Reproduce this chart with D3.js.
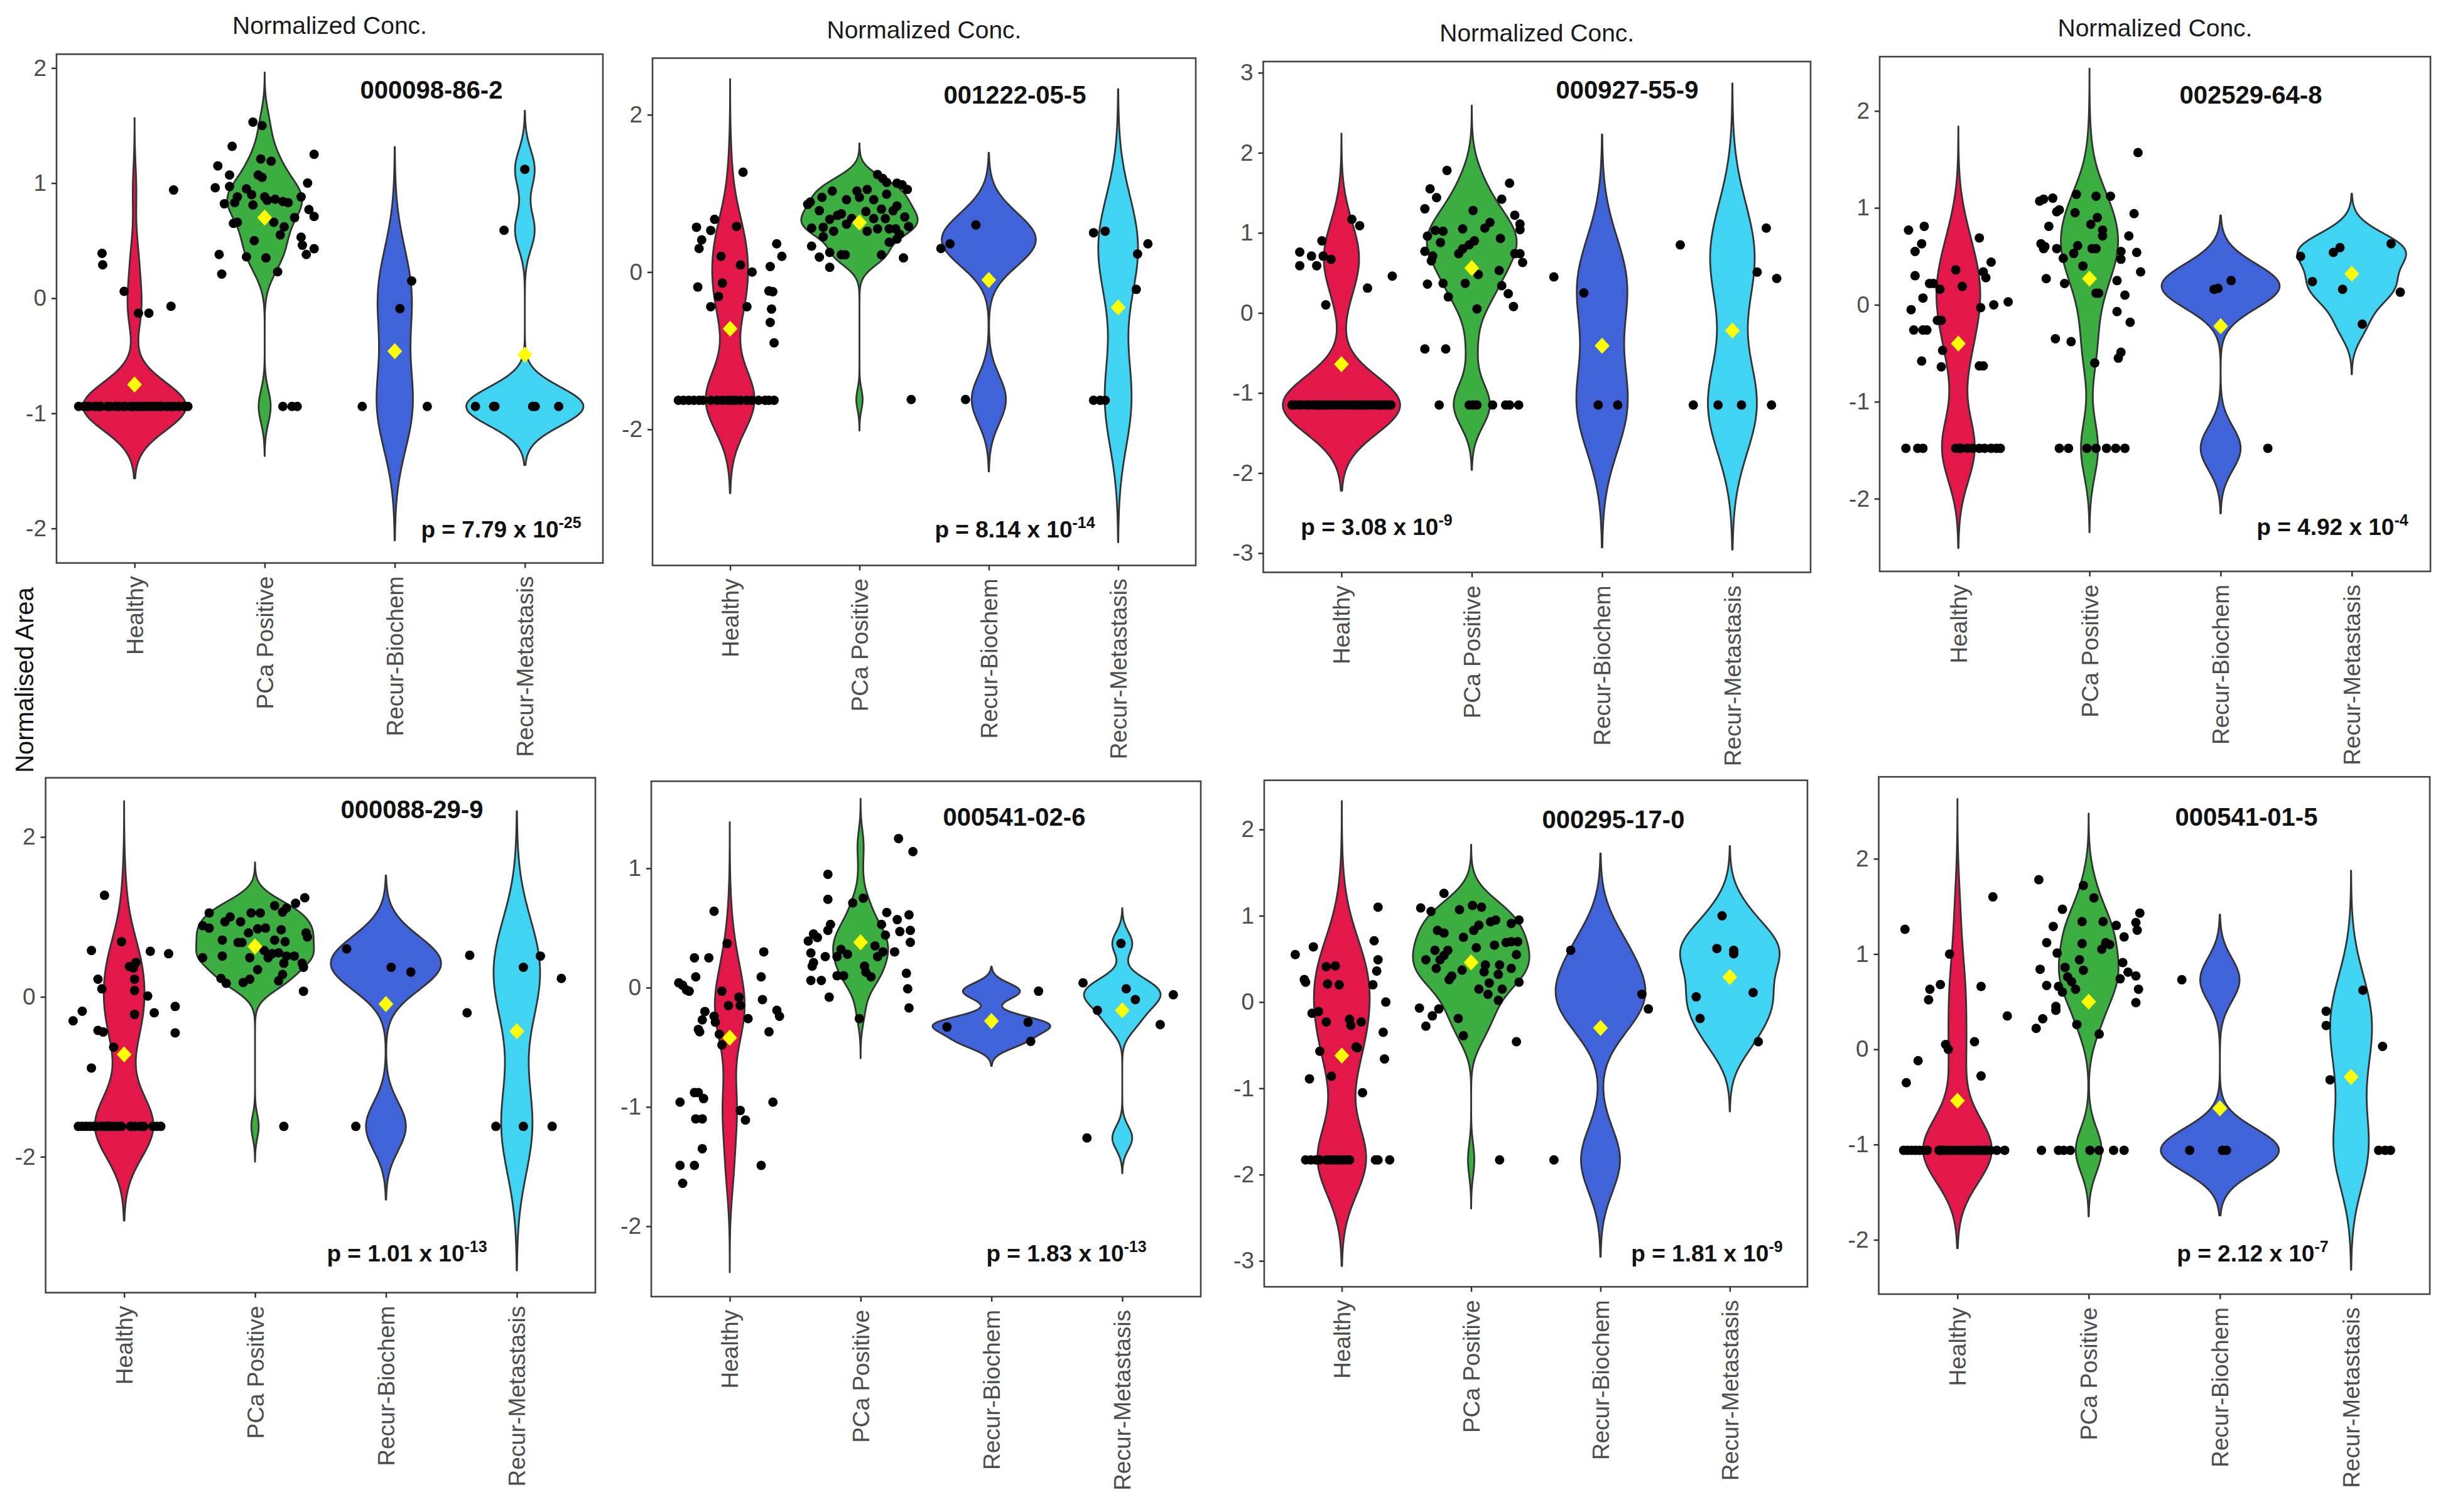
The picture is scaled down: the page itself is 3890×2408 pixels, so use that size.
<!DOCTYPE html>
<html><head><meta charset="utf-8">
<script src="https://cdn.jsdelivr.net/npm/d3@7"></script>
<style>html,body{margin:0;padding:0;background:#fff;}svg{display:block;}</style>
</head><body>
<script>
// ---------------- DATA ----------------
const categories = ["Healthy", "PCa Positive", "Recur-Biochem", "Recur-Metastasis"];
const compoundIds = ["000098-86-2", "001222-05-5", "000927-55-9", "002529-64-8",
                     "000088-29-9", "000541-02-6", "000295-17-0", "000541-01-5"];
const pMantissa = ["7.79", "8.14", "3.08", "4.92", "1.01", "1.83", "1.81", "2.12"];
const pExponent = ["-25", "-14", "-9", "-4", "-13", "-13", "-9", "-7"];
const yAxisTitle = "Normalised Area";
const panelTitle = "Normalized Conc.";

const ticks1 = [-2, -1, 0, 1, 2];
const ticks2 = [-2, 0, 2];
const ticks3 = [-3, -2, -1, 0, 1, 2, 3];
const ticks4 = [-2, -1, 0, 1, 2];
const ticks5 = [-2, 0, 2];
const ticks6 = [-2, -1, 0, 1];
const ticks7 = [-3, -2, -1, 0, 1, 2];
const ticks8 = [-2, -1, 0, 1, 2];

// group means (yellow diamonds), order = categories
const means1 = [-0.75, 0.70, -0.46, -0.49];
const means2 = [-0.72, 0.63, -0.10, -0.45];
const means3 = [-0.64, 0.56, -0.41, -0.22];
const means4 = [-0.40, 0.27, -0.22, 0.32];
const means5 = [-0.72, 0.63, -0.09, -0.43];
const means6 = [-0.42, 0.38, -0.28, -0.19];
const means7 = [-0.62, 0.46, -0.30, 0.29];
const means8 = [-0.54, 0.50, -0.62, -0.29];

// observations: [jitter offset (in category steps), value]
const at = (v, offsets) => offsets.map(o => [o, v]);

// Panel 1: 000098-86-2
const healthy1 = [[-0.25,0.39],[-0.245,0.29],[-0.08,0.06],[0.03,-0.13],[0.11,-0.13],[0.28,-0.07],[0.30,0.94]]
  .concat(at(-0.94, [-0.43,-0.39,-0.36,-0.35,-0.31,-0.28,-0.26,-0.21,-0.19,-0.15,-0.12,-0.08,-0.07,-0.03,-0.01,0.02,0.04,0.07,0.09,0.12,0.15,0.17,0.20,0.21,0.25,0.28,0.30,0.34,0.38,0.41]));
const pca1 = [[-0.09,1.53],[-0.02,1.50],[-0.25,1.32],[0.38,1.25],[-0.36,1.15],[-0.03,1.21],[0.05,1.19],[-0.27,1.07],[-0.05,1.07],[-0.02,1.05],[-0.38,0.96],[-0.27,0.97],[-0.14,0.95],[0.33,1.00],[-0.21,0.88],[-0.10,0.90],[0,0.88],[0.08,0.86],[0.18,0.83],[0.28,0.88],[-0.31,0.82],[-0.23,0.83],[-0.09,0.81],[0.02,0.85],[0.14,0.84],[0.34,0.77],[0.38,0.71],[0.23,0.70],[0.07,0.66],[-0.21,0.66],[-0.24,0.65],[0.15,0.62],[0.12,0.55],[0.28,0.53],[-0.08,0.50],[0.29,0.46],[0.38,0.43],[0.32,0.38],[-0.14,0.36],[0.01,0.35],[-0.35,0.38],[-0.33,0.21],[0.10,0.23]]
  .concat(at(-0.94, [0.14,0.21,0.25]));
const biochem1 = [[-0.25,-0.94],[0.25,-0.94],[0.04,-0.09],[0.13,0.15]];
const meta1 = [[0,1.12],[-0.16,0.59]].concat(at(-0.94, [-0.38,-0.24,0.06,0.08,0.26,-0.23]));

// Panel 2: 001222-05-5
const healthy2 = [[0.10,1.27],[-0.26,0.57],[-0.22,0.41],[-0.24,0.30],[-0.12,0.67],[-0.15,0.53],[0.05,0.58],[-0.07,0.20],[0.08,0.09],[0.17,0.0],[-0.25,-0.19],[-0.06,-0.14],[-0.09,-0.31],[-0.15,-0.44],[0.13,-0.44],[0.31,0.07],[0.36,0.36],[0.40,0.20],[0.30,-0.24],[0.33,-0.25],[0.32,-0.47],[0.31,-0.64],[0.34,-0.90]]
  .concat(at(-1.63, [-0.40,-0.36,-0.32,-0.28,-0.24,-0.21,-0.15,-0.10,-0.06,-0.02,0.01,0.04,0.08,0.13,0.17,0.22,0.27,0.30,0.34]));
const pca2 = [[0.14,1.24],[0.18,1.19],[0.21,1.14],[0.29,1.13],[0.33,1.11],[0.37,1.05],[-0.21,1.03],[-0.29,0.95],[-0.38,0.89],[-0.40,0.86],[-0.02,1.03],[0.06,1.05],[-0.10,0.92],[0.11,0.92],[0.21,0.99],[0.29,0.84],[0.17,0.80],[0.26,0.78],[-0.31,0.78],[-0.14,0.74],[-0.17,0.72],[-0.23,0.67],[-0.28,0.57],[-0.37,0.56],[-0.10,0.61],[0.06,0.52],[0.14,0.55],[0.23,0.55],[0.28,0.55],[0.31,0.48],[0.38,0.58],[0.23,0.38],[0.29,0.42],[-0.28,0.45],[-0.20,0.52],[-0.14,0.22],[-0.11,0.22],[-0.23,0.25],[-0.37,0.33],[-0.31,0.19],[-0.23,0.06],[0.17,0.22],[0.34,0.18],[0.0,0.95],[0.05,0.77],[-0.06,0.68],[0.11,0.68],[0.20,0.68],[0.35,0.70]]
  .concat(at(-1.62, [0.40]));
const biochem2 = [[-0.37,0.30],[-0.30,0.36],[-0.10,0.60],[-0.18,-1.62]];
const meta2 = [[-0.19,0.50],[-0.10,0.52],[0.23,0.36],[0.15,0.23],[0.14,-0.22]].concat(at(-1.63, [-0.19,-0.10,-0.14]));

// Panel 3: 000927-55-9
const healthy3 = [[-0.32,0.76],[-0.32,0.59],[-0.23,0.71],[-0.19,0.59],[-0.15,0.90],[-0.14,0.71],[-0.08,0.67],[-0.12,0.10],[0.08,1.17],[0.14,1.09],[0.20,0.31],[0.39,0.46]]
  .concat(at(-1.15, [-0.38,-0.36,-0.33,-0.31,-0.27,-0.25,-0.22,-0.19,-0.17,-0.14,-0.12,-0.09,-0.06,-0.04,-0.01,0.02,0.04,0.07,0.09,0.12,0.14,0.17,0.19,0.22,0.24,0.27,0.29,0.31,0.34,0.36,0.38]));
const pca3 = [[-0.19,1.78],[-0.32,1.55],[-0.27,1.44],[0.29,1.62],[0.23,1.42],[-0.36,1.30],[0.01,1.28],[0.33,1.22],[0.37,1.11],[0.14,1.13],[0.10,1.06],[-0.28,1.03],[-0.22,1.02],[-0.07,1.05],[0.37,1.04],[-0.34,0.96],[-0.24,0.88],[0.02,0.90],[-0.02,0.85],[-0.07,0.80],[-0.10,0.74],[0.22,0.93],[-0.36,0.77],[-0.30,0.71],[-0.31,0.65],[0.39,0.63],[0.33,0.74],[0.37,0.74],[0.21,0.53],[0.05,0.48],[-0.05,0.37],[-0.34,0.36],[-0.22,0.37],[-0.18,0.20],[0.23,0.34],[0.28,0.24],[0.32,0.08],[0.04,0.05],[-0.36,-0.45],[-0.20,-0.45]]
  .concat(at(-1.15, [-0.25,-0.02,0.01,0.04,0.16,0.26,0.29,0.36]));
const biochem3 = [[-0.37,0.45],[-0.14,0.25]].concat(at(-1.15, [-0.03,0.12]));
const meta3 = [[-0.40,0.85],[0.26,1.06],[0.19,0.51],[0.34,0.43]].concat(at(-1.15, [-0.30,-0.11,0.07,0.30]));

// Panel 4: 002529-64-8
const healthy4 = [[-0.38,0.77],[-0.26,0.81],[-0.28,0.63],[-0.33,0.55],[-0.33,0.30],[-0.22,0.22],[-0.19,0.22],[-0.27,0.07],[-0.36,-0.05],[-0.34,-0.26],[-0.27,-0.26],[-0.24,-0.26],[-0.14,0.16],[-0.16,-0.16],[-0.13,-0.16],[-0.12,-0.47],[-0.13,-0.64],[-0.28,-0.58],[-0.02,0.36],[0.03,0.19],[0.16,0.69],[0.25,0.44],[0.19,0.34],[0.21,0.28],[0.17,-0.03],[0.27,0.0],[0.38,0.03],[0.16,-0.63],[0.19,-0.63]]
  .concat(at(-1.48, [-0.40,-0.31,-0.27,-0.02,0.01,0.02,0.07,0.11,0.16,0.20,0.25,0.29,0.32]));
const pca4 = [[0.37,1.57],[-0.38,1.07],[-0.35,1.09],[-0.28,1.10],[-0.10,1.14],[0.05,1.12],[0.16,1.12],[-0.23,0.98],[-0.25,0.96],[0.34,0.94],[-0.11,0.95],[-0.31,0.81],[0.01,0.83],[0.06,0.90],[0.10,0.77],[0.10,0.71],[0.30,0.71],[-0.37,0.63],[-0.34,0.60],[-0.09,0.61],[-0.35,0.58],[-0.25,0.58],[0.02,0.58],[0.05,0.58],[0.24,0.55],[0.36,0.54],[-0.12,0.53],[-0.20,0.48],[0.24,0.47],[-0.05,0.40],[0.39,0.34],[-0.33,0.27],[-0.19,0.22],[0.21,0.25],[0.05,0.12],[0.07,0.12],[0.27,0.10],[0.21,-0.07],[0.31,-0.18],[-0.26,-0.35],[-0.14,-0.38],[0.24,-0.49],[0.22,-0.55],[0.04,-0.60]]
  .concat(at(-1.48, [-0.23,-0.16,-0.02,0.05,0.13,0.20,0.27]));
const biochem4 = [[-0.05,0.16],[-0.02,0.17],[0.08,0.25],[0.36,-1.48]];
const meta4 = [[-0.39,0.50],[-0.30,0.24],[-0.14,0.54],[-0.09,0.59],[-0.07,0.16],[0.30,0.63],[0.37,0.13],[0.08,-0.20]];

// Panel 5: 000088-29-9
const healthy5 = [[-0.15,1.27],[-0.02,0.69],[-0.25,0.58],[0.20,0.57],[0.34,0.54],[0.04,0.38],[0.07,0.36],[0.09,0.43],[-0.20,0.22],[-0.17,0.10],[0.08,0.08],[0.08,0.22],[0.18,0.01],[0.39,-0.12],[-0.39,-0.30],[-0.32,-0.18],[0.23,-0.20],[0.08,-0.22],[-0.20,-0.42],[-0.16,-0.44],[0.39,-0.45],[-0.08,-0.63],[-0.25,-0.89]]
  .concat(at(-1.62, [-0.35,-0.32,-0.29,-0.26,-0.23,-0.20,-0.17,-0.14,-0.13,-0.11,-0.08,-0.05,-0.02,0.05,0.08,0.12,0.15,0.22,0.25,0.28]));
const pca5 = [[0.38,1.24],[0.31,1.17],[0.15,1.14],[0.24,1.11],[0.21,1.06],[-0.35,1.05],[-0.03,1.05],[0.04,1.05],[-0.19,1.0],[-0.23,0.94],[-0.11,0.94],[-0.40,0.89],[-0.35,0.86],[0.08,0.86],[0.20,0.84],[0.02,0.85],[-0.05,0.80],[0.39,0.80],[0.40,0.75],[-0.25,0.71],[-0.13,0.68],[-0.10,0.68],[0.15,0.71],[0.23,0.69],[0.07,0.58],[0.13,0.54],[0.10,0.49],[0.18,0.55],[0.24,0.51],[0.30,0.51],[-0.40,0.49],[-0.25,0.51],[-0.04,0.49],[0.36,0.42],[0.37,0.37],[0.22,0.42],[0.02,0.34],[0.21,0.28],[0.18,0.20],[-0.26,0.23],[-0.22,0.17],[-0.09,0.18],[-0.04,0.22],[0.37,0.07]]
  .concat(at(-1.62, [0.22]));
const biochem5 = [[-0.30,0.60],[0.04,0.37],[0.19,0.31],[-0.23,-1.62]];
const meta5 = [[-0.36,0.52],[0.05,0.37],[0.18,0.51],[0.34,0.23],[-0.38,-0.20]].concat(at(-1.62, [-0.16,0.05,0.27]));

// Panel 6: 000541-02-6
const healthy6 = [[-0.12,0.64],[-0.02,0.37],[-0.16,0.25],[-0.27,0.25],[-0.26,0.09],[-0.39,0.04],[-0.36,0.02],[-0.33,-0.02],[-0.31,-0.03],[-0.06,-0.03],[-0.19,-0.20],[-0.21,-0.27],[-0.12,-0.24],[-0.11,-0.29],[-0.24,-0.35],[-0.23,-0.37],[-0.08,-0.39],[-0.06,-0.48],[-0.01,-0.15],[0.07,-0.08],[0.08,-0.15],[0.14,-0.26],[0.08,-1.03],[0.12,-1.11],[0.26,0.30],[0.24,0.09],[0.25,-0.10],[0.30,-0.37],[0.36,-0.19],[0.38,-0.24],[0.33,-0.96],[0.24,-1.49],[-0.38,-0.96],[-0.27,-0.88],[-0.24,-0.88],[-0.20,-0.93],[-0.26,-1.10],[-0.21,-1.10],[-0.21,-1.35],[-0.38,-1.49],[-0.27,-1.49],[-0.36,-1.64]];
const pca6 = [[0.29,1.25],[0.40,1.14],[-0.25,0.95],[-0.25,0.74],[-0.06,0.71],[0.02,0.75],[0.37,0.61],[0.20,0.63],[0.28,0.57],[0.16,0.53],[-0.23,0.53],[-0.25,0.48],[0.38,0.48],[0.30,0.47],[-0.36,0.45],[-0.33,0.42],[-0.40,0.39],[0.19,0.44],[0.38,0.38],[0.01,0.38],[0.11,0.35],[-0.15,0.32],[-0.27,0.26],[-0.18,0.26],[-0.38,0.29],[-0.10,0.28],[0.17,0.30],[0.26,0.30],[0.13,0.26],[-0.37,0.18],[-0.36,0.21],[0.03,0.18],[0.04,0.13],[-0.18,0.10],[-0.13,0.10],[0.08,0.09],[-0.38,0.06],[-0.30,0.06],[0.35,0.12],[0.36,-0.01],[0.37,-0.17],[-0.24,-0.08],[-0.01,-0.26]];
const biochem6 = [[-0.34,-0.33],[0.36,-0.03],[0.28,-0.29],[0.30,-0.45]];
const meta6 = [[-0.30,0.04],[-0.01,0.37],[0.03,-0.01],[0.10,-0.10],[0.39,-0.06],[-0.19,-0.19],[0.29,-0.31],[-0.27,-1.26]];

// Panel 7: 000295-17-0
const healthy7 = [[-0.36,0.55],[-0.22,0.64],[-0.29,0.26],[-0.28,0.23],[-0.12,0.41],[-0.05,0.42],[-0.11,0.21],[-0.02,0.20],[-0.23,-0.13],[-0.18,-0.11],[-0.12,-0.23],[0.06,-0.20],[0.07,-0.27],[0.15,-0.23],[0.11,-0.52],[0.12,-0.53],[-0.17,-0.57],[-0.08,-0.86],[-0.25,-0.89],[0.16,-1.05],[0.28,1.10],[0.25,0.71],[0.28,0.49],[0.27,0.36],[0.24,0.20],[0.34,0.0],[0.32,-0.35],[0.33,-0.66]]
  .concat(at(-1.83, [-0.28,-0.24,-0.20,-0.17,-0.12,-0.09,-0.06,-0.03,0.0,0.03,0.06,0.26,0.28,0.37]));
const pca7 = [[-0.21,1.26],[-0.39,1.09],[-0.31,1.05],[-0.09,1.07],[0.01,1.12],[0.08,1.10],[0.15,0.93],[0.19,0.95],[0.06,0.89],[0.02,0.83],[-0.26,0.83],[-0.21,0.80],[-0.06,0.75],[0.31,0.91],[0.37,0.95],[0.27,0.69],[0.31,0.70],[0.36,0.70],[0.18,0.66],[0.04,0.63],[-0.28,0.60],[-0.18,0.60],[-0.21,0.54],[0.35,0.55],[-0.35,0.49],[-0.24,0.49],[0.11,0.43],[0.22,0.43],[-0.27,0.39],[-0.07,0.37],[0.31,0.39],[0.10,0.35],[-0.15,0.30],[-0.17,0.26],[0.21,0.32],[0.14,0.22],[0.37,0.23],[0.06,0.15],[0.24,0.15],[0.13,0.09],[0.21,0.02],[-0.40,-0.07],[-0.25,-0.08],[-0.30,-0.16],[-0.35,-0.28],[-0.10,-0.19],[-0.06,-0.39],[0.35,-0.46]]
  .concat(at(-1.83, [0.22]));
const biochem7 = [[-0.23,0.60],[0.32,0.09],[0.37,-0.08],[-0.36,-1.83]];
const meta7 = [[-0.06,1.0],[-0.10,0.62],[0.03,0.60],[0.03,0.56],[-0.26,0.06],[-0.23,-0.19],[0.18,0.11],[0.22,-0.46]];

// Panel 8: 000541-01-5
const healthy8 = [[-0.40,1.26],[0.27,1.60],[-0.06,1.0],[-0.13,0.68],[-0.21,0.63],[-0.22,0.52],[0.18,0.66],[0.38,0.35],[-0.09,0.05],[-0.07,0.0],[0.13,0.08],[-0.30,-0.12],[-0.39,-0.35],[0.18,-0.28]]
  .concat(at(-1.06, [-0.41,-0.38,-0.35,-0.32,-0.29,-0.26,-0.23,-0.14,-0.13,-0.11,-0.08,-0.05,-0.02,0.01,0.04,0.07,0.10,0.13,0.15,0.16,0.19,0.21,0.22,0.25,0.30,0.36]));
const pca8 = [[-0.38,1.78],[-0.04,1.72],[0.04,1.59],[-0.20,1.47],[-0.27,1.29],[-0.05,1.34],[0.11,1.34],[0.21,1.30],[0.39,1.43],[0.36,1.33],[0.37,1.25],[0.27,1.18],[-0.32,1.12],[-0.05,1.11],[0.13,1.12],[0.16,1.10],[0.10,1.05],[-0.24,1.01],[-0.07,0.94],[0.26,0.91],[-0.18,0.86],[-0.37,0.84],[-0.04,0.83],[-0.16,0.76],[-0.13,0.71],[0.30,0.81],[0.36,0.77],[0.24,0.74],[-0.32,0.67],[-0.23,0.66],[-0.20,0.60],[-0.10,0.63],[0.38,0.63],[0.36,0.49],[-0.25,0.45],[-0.25,0.41],[-0.35,0.32],[-0.40,0.22],[-0.09,0.26],[0.08,0.16]]
  .concat(at(-1.06, [-0.36,-0.23,-0.19,-0.14,0.01,0.08,0.19,0.27]));
const biochem8 = [[-0.29,0.73]].concat(at(-1.06, [-0.23,0.02,0.05]));
const meta8 = [[-0.19,0.40],[-0.19,0.25],[0.09,0.62],[0.24,0.03],[-0.16,-0.32]].concat(at(-1.06, [0.21,0.26,0.30]));

// ---------------- STYLE / LAYOUT ----------------
const FONT = "'Liberation Sans', Arial, Helvetica, sans-serif";
const groupColors = ["#E2184A", "#3CAE41", "#4163D9", "#41D4F2"];

const panels = [
  {groups:[healthy1,pca1,biochem1,meta1], means:means1, ticks:ticks1, box:[90,86.3,960,896.6],     dom:[-2.30,2.12], lab:[687,157],  pt:[798,856],  title:true},
  {groups:[healthy2,pca2,biochem2,meta2], means:means2, ticks:ticks2, box:[1039,92.6,1904,900.5],  dom:[-3.73,2.72], lab:[1616,165], pt:[1616,856], title:true},
  {groups:[healthy3,pca3,biochem3,meta3], means:means3, ticks:ticks3, box:[2011.5,98,2883,911.5],  dom:[-3.24,3.14], lab:[2591,157], pt:[2192,852], title:true},
  {groups:[healthy4,pca4,biochem4,meta4], means:means4, ticks:ticks4, box:[2993,90.2,3870,910],    dom:[-2.75,2.56], lab:[3584,165], pt:[3714,852], title:true},
  {groups:[healthy5,pca5,biochem5,meta5], means:means5, ticks:ticks5, box:[72.6,1238.7,948,2058.7],dom:[-3.70,2.74], lab:[656,1303], pt:[648,2009], title:false},
  {groups:[healthy6,pca6,biochem6,meta6], means:means6, ticks:ticks6, box:[1037,1244.2,1912,2065], dom:[-2.59,1.73], lab:[1615,1315],pt:[1698,2009],title:false},
  {groups:[healthy7,pca7,biochem7,meta7], means:means7, ticks:ticks7, box:[2013,1242.7,2878,2049.3],dom:[-3.30,2.57],lab:[2569,1319],pt:[2718,2009],title:false},
  {groups:[healthy8,pca8,biochem8,meta8], means:means8, ticks:ticks8, box:[2991.5,1237.2,3869,2061],dom:[-2.57,2.86],lab:[3577,1315],pt:[3587,2009],title:false}
];

// ---------------- KDE (ggplot2 violin: gaussian, bw.nrd0, trim = FALSE) ----------------
function bwNrd0(sorted) {
  const hi = d3.deviation(sorted);
  const iqr = d3.quantileSorted(sorted, 0.75) - d3.quantileSorted(sorted, 0.25);
  let lo = Math.min(hi, iqr / 1.34);
  if (!(lo > 0)) lo = hi || Math.abs(sorted[0]) || 1;
  return 0.9 * lo * Math.pow(sorted.length, -0.2);
}
function violinProfile(values) {
  const v = values.slice().sort(d3.ascending);
  const bw = bwNrd0(v);
  const lo = v[0] - 3 * bw, hi = v[v.length - 1] + 3 * bw;
  const n = 512, norm = v.length * bw * Math.sqrt(2 * Math.PI);
  return d3.range(n).map(i => {
    const y = lo + (hi - lo) * i / (n - 1);
    let s = 0;
    for (const x of v) { const z = (y - x) / bw; s += Math.exp(-0.5 * z * z); }
    return {y, d: s / norm};
  });
}

// ---------------- DRAW ----------------
const svg = d3.select("body").append("svg")
  .attr("width", 3890).attr("height", 2408)
  .style("font-family", FONT);
svg.append("rect").attr("width", 3890).attr("height", 2408).attr("fill", "#fff");

panels.forEach((P, i) => {
  const [x0, y0, x1, y1] = P.box;
  const x = d3.scalePoint().domain(categories).range([x0, x1]).padding(0.6);
  const y = d3.scaleLinear().domain(P.dom).range([y1, y0]);
  const step = x.step();
  const g = svg.append("g");

  // violins
  const profiles = P.groups.map(gr => violinProfile(gr.map(d => d[1])));
  const maxD = d3.max(profiles, p => d3.max(p, q => q.d));
  const w = d3.scaleLinear().domain([0, maxD]).range([0, 0.45 * step]);
  profiles.forEach((prof, k) => {
    const cx = x(categories[k]);
    const area = d3.area().y(q => y(q.y)).x0(q => cx - w(q.d)).x1(q => cx + w(q.d));
    g.append("path").attr("d", area(prof))
      .attr("fill", groupColors[k]).attr("stroke", "#333").attr("stroke-width", 2.8)
      .attr("stroke-linejoin", "round");
  });

  // jittered points
  P.groups.forEach((gr, k) => {
    g.append("g").selectAll("circle").data(gr).join("circle")
      .attr("cx", d => x(categories[k]) + d[0] * step)
      .attr("cy", d => y(d[1]))
      .attr("r", 7.5).attr("fill", "#000");
  });

  // means
  const diamond = d3.symbol().type(d3.symbolSquare).size(330)();
  g.append("g").selectAll("path").data(P.means).join("path")
    .attr("d", diamond)
    .attr("transform", (m, k) => `translate(${x(categories[k])},${y(m)}) scale(0.92,1) rotate(45)`)
    .attr("fill", "#FFFF00");

  // panel border
  g.append("rect").attr("x", x0).attr("y", y0).attr("width", x1 - x0).attr("height", y1 - y0)
    .attr("fill", "none").attr("stroke", "#444").attr("stroke-width", 2.6);

  // y axis
  const ya = g.append("g").attr("transform", `translate(${x0},0)`)
    .call(d3.axisLeft(y).tickValues(P.ticks).tickSize(8).tickPadding(8).tickFormat(d => String(d)));
  ya.attr("font-family", FONT).attr("font-size", 37);
  ya.select(".domain").remove();
  ya.selectAll(".tick line").attr("stroke", "#333").attr("stroke-width", 2.5);
  ya.selectAll(".tick text").attr("fill", "#4D4D4D");

  // x axis
  const xa = g.append("g").attr("transform", `translate(0,${y1})`)
    .call(d3.axisBottom(x).tickSize(8));
  xa.attr("font-family", FONT).attr("font-size", 37);
  xa.select(".domain").remove();
  xa.selectAll(".tick line").attr("stroke", "#333").attr("stroke-width", 2.5);
  xa.selectAll(".tick text")
    .attr("transform", "rotate(-90)").attr("x", -21).attr("y", 0).attr("dy", "0.35em")
    .attr("text-anchor", "end").attr("fill", "#4D4D4D");

  // title
  if (P.title) {
    g.append("text").attr("x", (x0 + x1) / 2).attr("y", y0 - 32)
      .attr("text-anchor", "middle").attr("font-size", 39).attr("fill", "#1a1a1a")
      .text(panelTitle);
  }
  // compound id
  g.append("text").attr("x", P.lab[0]).attr("y", P.lab[1])
    .attr("text-anchor", "middle").attr("font-size", 40).attr("font-weight", "bold").attr("fill", "#111")
    .text(compoundIds[i]);
  // p value
  const pt = g.append("text").attr("x", P.pt[0]).attr("y", P.pt[1])
    .attr("text-anchor", "middle").attr("font-size", 37).attr("font-weight", "bold").attr("fill", "#111");
  pt.append("tspan").text(`p = ${pMantissa[i]} x 10`);
  pt.append("tspan").attr("dy", -15).attr("font-size", 25).text(pExponent[i]);
});

// shared y-axis title
svg.append("text").attr("transform", "translate(53,1083) rotate(-90)")
  .attr("text-anchor", "middle").attr("font-size", 40).attr("fill", "#111")
  .text(yAxisTitle);
</script>
</body></html>
